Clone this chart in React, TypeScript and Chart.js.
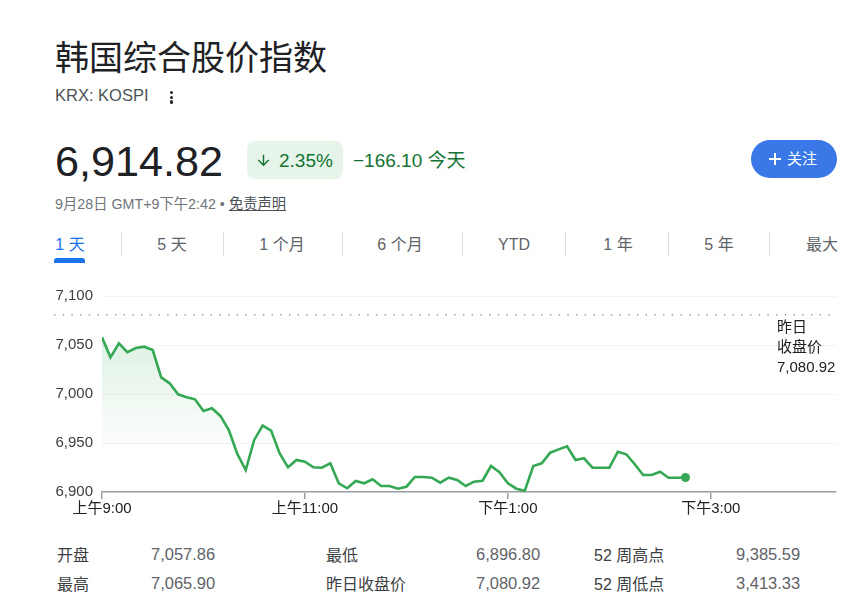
import React, { useEffect, useRef } from "react";
import { Chart, registerables } from "chart.js";

Chart.register(...registerables);

// ---------- data ----------
const times = [
  "9:00", "9:05", "9:10", "9:15", "9:20", "9:25", "9:30", "9:35", "9:40", "9:45", "9:50", "9:55",
  "10:00", "10:05", "10:10", "10:15", "10:20", "10:25", "10:30", "10:35", "10:40", "10:45", "10:50", "10:55",
  "11:00", "11:05", "11:10", "11:15", "11:20", "11:25", "11:30", "11:35", "11:40", "11:45", "11:50", "11:55",
  "12:00", "12:05", "12:10", "12:15", "12:20", "12:25", "12:30", "12:35", "12:40", "12:45", "12:50", "12:55",
  "13:00", "13:05", "13:10", "13:15", "13:20", "13:25", "13:30", "13:35", "13:40", "13:45", "13:50", "13:55",
  "14:00", "14:05", "14:10", "14:15", "14:20", "14:25", "14:30", "14:35", "14:40", "14:45",
];
const prices = [
  7057.86, 7037.4, 7051.7, 7042.6, 7046.9, 7048.3, 7044.9, 7017.0, 7010.9, 6999.7, 6996.6, 6994.6,
  6982.7, 6985.4, 6977.6, 6963.3, 6938.8, 6922.4, 6953.1, 6967.7, 6962.6, 6939.5, 6925.2, 6932.7,
  6930.9, 6925.2, 6924.8, 6929.3, 6908.9, 6903.8, 6911.2, 6908.9, 6913.0, 6906.1, 6906.1, 6903.4,
  6905.4, 6915.3, 6915.3, 6914.6, 6909.5, 6914.6, 6912.2, 6906.1, 6910.5, 6911.5, 6926.5, 6920.1,
  6908.9, 6903.4, 6901.3, 6926.5, 6929.3, 6940.1, 6943.5, 6946.6, 6932.7, 6934.4, 6924.8, 6924.8,
  6924.8, 6941.1, 6938.5, 6928.3, 6917.3, 6917.3, 6920.7, 6914.6, 6914.6, 6914.82,
];
const previousClose = 7080.92;
const yTicks = [6900, 6950, 7000, 7050, 7100];
const xTickTimes = ["9:00", "11:00", "13:00", "15:00"];
const xTickLabels = ["上午9:00", "上午11:00", "下午1:00", "下午3:00"];
const sessionStart = "9:00";
const axisEnd = "16:14";

const tabs = ["1 天", "5 天", "1 个月", "6 个月", "YTD", "1 年", "5 年", "最大"];
const statLabels1 = ["开盘", "最高"];
const statValues1 = ["7,057.86", "7,065.90"];
const statLabels2 = ["最低", "昨日收盘价"];
const statValues2 = ["6,896.80", "7,080.92"];
const statLabels3 = ["52 周高点", "52 周低点"];
const statValues3 = ["9,385.59", "3,413.33"];

// ---------- helpers ----------
const toMin = (t: string) => {
  const [h, m] = t.split(":").map(Number);
  const [h0, m0] = sessionStart.split(":").map(Number);
  return (h - h0) * 60 + (m - m0);
};

const FONT = 'Arial, "Liberation Sans", "Noto Sans CJK SC", sans-serif';
const GREEN = "#34a853";

function T(props: {
  x: number;
  cy: number;
  size: number;
  color?: string;
  children: React.ReactNode;
  center?: boolean;
  style?: React.CSSProperties;
}) {
  const { x, cy, size, color = "#202124", children, center, style } = props;
  const L = Math.round(size * 1.3);
  return (
    <div
      style={{
        position: "absolute",
        left: x,
        top: cy - 0.64 * size,
        fontSize: size,
        lineHeight: L + "px",
        color,
        fontFamily: FONT,
        whiteSpace: "nowrap",
        transform: center ? "translateX(-50%)" : undefined,
        ...style,
      }}
    >
      {children}
    </div>
  );
}

const prevClosePlugin = {
  id: "prevClose",
  beforeDatasetsDraw(chart: any) {
    const { ctx, scales, chartArea } = chart;
    const y = scales.y.getPixelForValue(previousClose);
    ctx.save();
    ctx.strokeStyle = "#9aa0a6";
    ctx.lineWidth = 1.5;
    ctx.setLineDash([1.5, 7.2]);
    ctx.beginPath();
    ctx.moveTo(54, y);
    ctx.lineTo(chartArea.right, y);
    ctx.stroke();
    ctx.restore();
  },
};

function PriceChart() {
  const ref = useRef<HTMLCanvasElement | null>(null);
  useEffect(() => {
    if (!ref.current) return;
    const data = times.map((t, i) => ({ x: toMin(t), y: prices[i] }));
    const last = data.length - 1;
    const chart = new Chart(ref.current, {
      type: "line",
      data: {
        datasets: [
          {
            data,
            borderColor: GREEN,
            borderWidth: 2.6,
            tension: 0,
            fill: "start",
            backgroundColor: (c: any) => {
              const { chart: ch } = c;
              const area = ch.chartArea;
              if (!area) return "transparent";
              const g = ch.ctx.createLinearGradient(0, area.top, 0, area.bottom);
              g.addColorStop(0, "rgba(52,168,83,0.22)");
              g.addColorStop(0.8, "rgba(52,168,83,0)");
              return g;
            },
            pointRadius: (c: any) => (c.dataIndex === last ? 4.5 : 0),
            pointBackgroundColor: GREEN,
            pointBorderWidth: 0,
            pointHoverRadius: 0,
          },
        ],
      },
      options: {
        animation: false,
        responsive: false,
        devicePixelRatio: 1,
        layout: { padding: { left: 0, right: 13, top: 26, bottom: 0 } },
        plugins: { legend: { display: false }, tooltip: { enabled: false } },
        events: [],
        scales: {
          x: {
            type: "linear",
            min: toMin(sessionStart),
            max: toMin(axisEnd),
            afterFit: (s: any) => {
              s.height = 38;
            },
            afterBuildTicks: (s: any) => {
              s.ticks = xTickTimes.map((t) => ({ value: toMin(t) }));
            },
            ticks: {
              autoSkip: false,
              maxRotation: 0,
              padding: 1,
              color: "#202124",
              font: { family: FONT, size: 15 },
              callback: (v: any) => {
                const i = xTickTimes.findIndex((t) => toMin(t) === v);
                return i >= 0 ? xTickLabels[i] : "";
              },
            },
            grid: {
              drawOnChartArea: false,
              drawTicks: true,
              tickLength: 7,
              color: "#9aa0a6",
              lineWidth: 1.5,
            },
            border: { display: true, color: "#9aa0a6", width: 1.5 },
          },
          y: {
            min: yTicks[0],
            max: yTicks[yTicks.length - 1],
            afterFit: (s: any) => {
              s.width = 102;
            },
            afterBuildTicks: (s: any) => {
              s.ticks = yTicks.map((v) => ({ value: v }));
            },
            ticks: {
              padding: 9,
              color: "#3c4043",
              font: { family: FONT, size: 15 },
              callback: (v: any) => Number(v).toLocaleString("en-US"),
            },
            grid: { drawTicks: false, color: "#f1f3f4", lineWidth: 1 },
            border: { display: false },
          },
        },
      },
      plugins: [prevClosePlugin],
    } as any);
    return () => chart.destroy();
  }, []);
  return (
    <canvas
      ref={ref}
      width={849}
      height={260}
      style={{ position: "absolute", left: 0, top: 270, width: 849, height: 260 }}
    />
  );
}

const tabCenters = [70, 172, 282, 400, 514, 618, 719, 822];
const sepXs = [121, 223, 342, 462, 565, 668, 769];

export default function App() {
  return (
    <div
      style={{
        position: "absolute",
        left: 0,
        top: 0,
        width: 849,
        height: 610,
        background: "#fff",
        overflow: "hidden",
        fontFamily: FONT,
      }}
    >
      <T x={55} cy={58} size={34}>韩国综合股价指数</T>
      <T x={55} cy={96} size={16.5} color="#4d5156">KRX: KOSPI</T>
      {[92.5, 97.3, 102].map((y, i) => (
        <div
          key={i}
          style={{
            position: "absolute",
            left: 170,
            top: y - 1.7,
            width: 3.4,
            height: 3.4,
            borderRadius: "50%",
            background: "#202124",
          }}
        />
      ))}

      <T x={55} cy={160.5} size={43.2}>6,914.82</T>

      <div
        style={{
          position: "absolute",
          left: 247,
          top: 141,
          width: 96,
          height: 38,
          borderRadius: 8,
          background: "#e6f4ea",
        }}
      />
      <svg
        style={{ position: "absolute", left: 255, top: 152 }}
        width={17}
        height={17}
        viewBox="0 0 24 24"
      >
        <path
          fill="#137333"
          d="M20 12l-1.41-1.41L13 16.17V4h-2v12.17l-5.58-5.59L4 12l8 8 8-8z"
        />
      </svg>
      <T x={279} cy={160} size={19} color="#137333">2.35%</T>
      <T x={353} cy={160} size={19} color="#137333">−166.10 今天</T>

      <T x={55} cy={204} size={14.3} color="#70757a">
        9月28日 GMT+9下午2:42 •{" "}
        <span style={{ textDecoration: "underline", color: "#4d5156" }}>免责声明</span>
      </T>

      <div
        style={{
          position: "absolute",
          left: 751,
          top: 140,
          width: 86,
          height: 38,
          borderRadius: 19,
          background: "#3a78e8",
        }}
      />
      <svg style={{ position: "absolute", left: 768, top: 152 }} width={14} height={14}>
        <line x1={7} y1={1} x2={7} y2={13} stroke="#fff" strokeWidth={2} />
        <line x1={1} y1={7} x2={13} y2={7} stroke="#fff" strokeWidth={2} />
      </svg>
      <T x={787} cy={159} size={15} color="#ffffff">关注</T>

      {tabs.map((t, i) => (
        <T
          key={t}
          x={tabCenters[i]}
          cy={244}
          size={16}
          center
          color={i === 0 ? "#1a73e8" : "#5f6368"}
        >
          {t}
        </T>
      ))}
      {sepXs.map((x) => (
        <div
          key={x}
          style={{
            position: "absolute",
            left: x,
            top: 232,
            width: 1,
            height: 24,
            background: "#dadce0",
          }}
        />
      ))}
      <div
        style={{
          position: "absolute",
          left: 54,
          top: 258,
          width: 31,
          height: 5,
          borderRadius: "3px 3px 0 0",
          background: "#1a73e8",
        }}
      />

      <PriceChart />

      <T x={777} cy={327} size={15}>昨日</T>
      <T x={777} cy={347} size={15}>收盘价</T>
      <T x={777} cy={367} size={15}>{previousClose.toLocaleString("en-US", { minimumFractionDigits: 2 })}</T>

      {[555, 584].map((cy, r) => (
        <React.Fragment key={r}>
          <T x={57} cy={cy} size={16} color="#3c4043">{statLabels1[r]}</T>
          <T x={151} cy={cy} size={16.5} color="#5f6368">{statValues1[r]}</T>
          <T x={326} cy={cy} size={16} color="#3c4043">{statLabels2[r]}</T>
          <T x={476} cy={cy} size={16.5} color="#5f6368">{statValues2[r]}</T>
          <T x={594} cy={cy} size={16} color="#3c4043">{statLabels3[r]}</T>
          <T x={736} cy={cy} size={16.5} color="#5f6368">{statValues3[r]}</T>
        </React.Fragment>
      ))}
    </div>
  );
}
